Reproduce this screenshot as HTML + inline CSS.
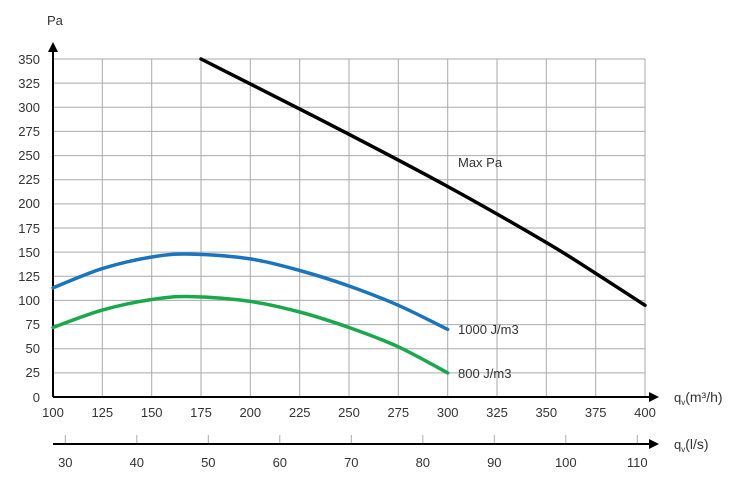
<!DOCTYPE html>
<html><head><meta charset="utf-8"><style>
html,body{margin:0;padding:0;background:#fff;}
svg text{font-family:"Liberation Sans","DejaVu Sans",sans-serif;fill:#333;font-size:13px;}
</style></head><body>
<svg width="750" height="486" viewBox="0 0 750 486" xmlns="http://www.w3.org/2000/svg">
<g stroke="#aaa" stroke-width="1">
<line x1="102.3" y1="59" x2="102.3" y2="397"/><line x1="151.7" y1="59" x2="151.7" y2="397"/>
<line x1="201" y1="59" x2="201" y2="397"/><line x1="250.3" y1="59" x2="250.3" y2="397"/>
<line x1="299.7" y1="59" x2="299.7" y2="397"/><line x1="349" y1="59" x2="349" y2="397"/>
<line x1="398.3" y1="59" x2="398.3" y2="397"/><line x1="447.7" y1="59" x2="447.7" y2="397"/>
<line x1="497" y1="59" x2="497" y2="397"/><line x1="546.3" y1="59" x2="546.3" y2="397"/>
<line x1="595.7" y1="59" x2="595.7" y2="397"/><line x1="645" y1="59" x2="645" y2="397"/>
<line x1="53" y1="59" x2="645" y2="59"/><line x1="53" y1="83.1" x2="645" y2="83.1"/>
<line x1="53" y1="107.3" x2="645" y2="107.3"/><line x1="53" y1="131.4" x2="645" y2="131.4"/>
<line x1="53" y1="155.6" x2="645" y2="155.6"/><line x1="53" y1="179.7" x2="645" y2="179.7"/>
<line x1="53" y1="203.9" x2="645" y2="203.9"/><line x1="53" y1="228" x2="645" y2="228"/>
<line x1="53" y1="252.1" x2="645" y2="252.1"/><line x1="53" y1="276.3" x2="645" y2="276.3"/>
<line x1="53" y1="300.4" x2="645" y2="300.4"/><line x1="53" y1="324.6" x2="645" y2="324.6"/>
<line x1="53" y1="348.7" x2="645" y2="348.7"/><line x1="53" y1="372.9" x2="645" y2="372.9"/>
<line x1="65.3" y1="435" x2="65.3" y2="444"/><line x1="136.8" y1="435" x2="136.8" y2="444"/>
<line x1="208.3" y1="435" x2="208.3" y2="444"/><line x1="279.8" y1="435" x2="279.8" y2="444"/>
<line x1="351.3" y1="435" x2="351.3" y2="444"/><line x1="422.8" y1="435" x2="422.8" y2="444"/>
<line x1="494.3" y1="435" x2="494.3" y2="444"/><line x1="565.8" y1="435" x2="565.8" y2="444"/>
<line x1="637.3" y1="435" x2="637.3" y2="444"/>
</g>
<g stroke="#000" stroke-width="2" fill="none">
<line x1="53" y1="397" x2="650" y2="397"/><line x1="53" y1="397" x2="53" y2="50"/>
<line x1="53" y1="444" x2="650" y2="444"/>
</g>
<polygon points="48,52 58,52 53,42" fill="#000"/>
<polygon points="649,392 649,402 659,397" fill="#000"/>
<polygon points="649,439 649,449 659,444" fill="#000"/>
<g fill="none" stroke-width="3.5" stroke-linejoin="round" stroke-linecap="round">
<path stroke="#000" d="M201,59 C209.2,63.2 225.6,71.4 250.3,83.9 C275,96.5 316.1,117.2 349,134.3 C381.9,151.4 414.8,168.5 447.7,186.5 C480.6,204.5 521.6,228 546.3,242.5 C571,257 579.2,262.9 595.7,273.4 C612.2,283.9 636.8,300 645,305.3"/>
<path stroke="#1a75bc" d="M53,287.9 C61.2,284.7 85.85,273.75 102.3,268.6 C118.75,263.45 136.9,259.4 151.7,257 C166.5,254.6 174.7,253.8 191.1,254.1 C207.5,254.4 232.2,256.2 250.3,258.9 C268.4,261.6 283.25,266 299.7,270.5 C316.15,275 332.6,280.2 349,286 C365.4,291.8 381.85,298.1 398.3,305.3 C414.75,312.5 439.5,325.4 447.7,329.4"/>
<path stroke="#1aa84c" d="M53,327.5 C61.2,324.6 85.85,314.8 102.3,310.1 C118.75,305.4 136.9,301.75 151.7,299.5 C166.5,297.25 174.7,296.3 191.1,296.6 C207.5,296.9 232.2,298.8 250.3,301.4 C268.4,304 283.25,307.65 299.7,312 C316.15,316.35 332.6,321.7 349,327.5 C365.4,333.3 381.85,339.2 398.3,346.8 C414.75,354.4 439.5,368.55 447.7,372.9"/>
</g>
<text x="47" y="25">Pa</text>
<g text-anchor="end">
<text x="40" y="64">350</text><text x="40" y="88">325</text><text x="40" y="112">300</text>
<text x="40" y="136">275</text><text x="40" y="160">250</text><text x="40" y="184">225</text>
<text x="40" y="208">200</text><text x="40" y="233">175</text><text x="40" y="257">150</text>
<text x="40" y="281">125</text><text x="40" y="305">100</text><text x="40" y="329">75</text>
<text x="40" y="353">50</text><text x="40" y="377">25</text><text x="40" y="402">0</text>
</g>
<g text-anchor="middle">
<text x="53" y="417">100</text><text x="102.3" y="417">125</text><text x="151.7" y="417">150</text>
<text x="201" y="417">175</text><text x="250.3" y="417">200</text><text x="299.7" y="417">225</text>
<text x="349" y="417">250</text><text x="398.3" y="417">275</text><text x="447.7" y="417">300</text>
<text x="497" y="417">325</text><text x="546.3" y="417">350</text><text x="595.7" y="417">375</text>
<text x="645" y="417">400</text>
<text x="65.3" y="467">30</text><text x="136.8" y="467">40</text><text x="208.3" y="467">50</text>
<text x="279.8" y="467">60</text><text x="351.3" y="467">70</text><text x="422.8" y="467">80</text>
<text x="494.3" y="467">90</text><text x="565.8" y="467">100</text><text x="637.3" y="467">110</text>
</g>
<text x="674" y="402" font-size="14">q<tspan font-size="8" dy="3">v</tspan><tspan dy="-3" font-size="14">(m³/h)</tspan></text>
<text x="674" y="449" font-size="14">q<tspan font-size="8" dy="3">v</tspan><tspan dy="-3" font-size="14">(l/s)</tspan></text>
<text x="458" y="167" font-size="14">Max Pa</text>
<text x="458" y="334" font-size="12">1000 J/m3</text>
<text x="458" y="378" font-size="12">800 J/m3</text>
</svg>
</body></html>
